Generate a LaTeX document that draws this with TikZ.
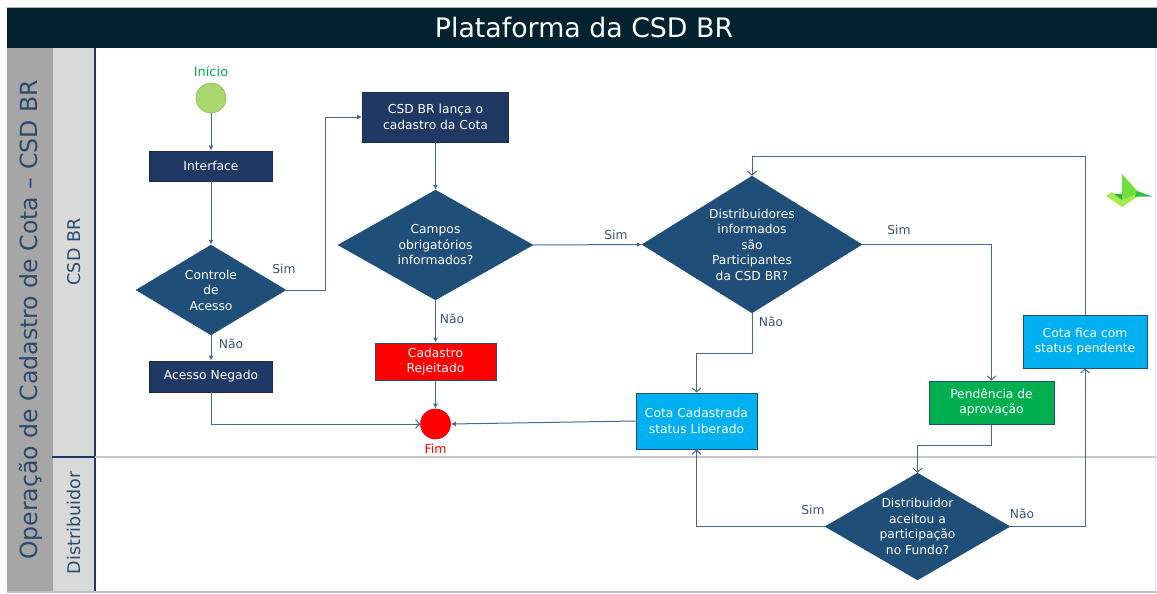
\documentclass[tikz,border=0pt]{standalone}
\usepackage{fontspec}
\setmainfont{DejaVu Sans}
\usetikzlibrary{shapes.geometric,arrows.meta}
\definecolor{hdr}{HTML}{03222F}
\definecolor{navy}{HTML}{203864}
\definecolor{dia}{HTML}{1F4E79}
\definecolor{ln}{HTML}{45698F}
\definecolor{lbl}{HTML}{3C5373}
\definecolor{lanetxt}{HTML}{2B4A6C}
\definecolor{ltblue}{HTML}{00B0F0}
\definecolor{grn}{HTML}{00B050}
\definecolor{startg}{HTML}{A9D86E}
\definecolor{gA}{HTML}{A6A6A6}
\definecolor{gB}{HTML}{D9D9D9}
\definecolor{logoA}{HTML}{A6EC4A}
\definecolor{logoB}{HTML}{6FDD3A}
\definecolor{logoC}{HTML}{2DBE3C}
\definecolor{logoD}{HTML}{27B04A}
\tikzset{
  txt/.style={font=\fontsize{12.3}{15.5}\selectfont, align=center},
  darkbox/.style={rectangle, draw=navy!80!black, line width=0.8pt, fill=navy, text=white, txt, inner sep=0pt},
  bluebox/.style={rectangle, draw=dia, line width=1pt, fill=ltblue, text=white, txt, inner sep=0pt},
  greenbox/.style={rectangle, draw=dia, line width=1pt, fill=grn, text=white, txt, inner sep=0pt},
  redbox/.style={rectangle, draw=dia, line width=1pt, fill=red, text=white, txt, inner sep=0pt},
  decision/.style={diamond, fill=dia, draw=dia, inner sep=0pt},
  dtext/.style={txt, text=white},
  flowfill/.style={draw=ln, line width=1pt, -{Latex[length=5pt,width=5pt]}},
  flowopen/.style={draw=ln, line width=1pt, -{Straight Barb[length=4pt,width=9pt]}},
  yesno/.style={font=\fontsize{12.3}{14}\selectfont, text=lbl},
}
\begin{document}
\begin{tikzpicture}[x=1pt,y=-1pt]
\useasboundingbox (0,0) rectangle (1157,594);
\fill[white] (0,0) rectangle (1157,594);
% header
\fill[hdr] (7,7) rectangle (1157,48);
\draw[gray!60, line width=0.6pt] (7,7) -- (1157,7);
\node[text=white, font=\fontsize{26.8}{30}\selectfont] (title) at (584,28) {Plataforma da CSD BR};
% lanes
\fill[gA] (7,48) rectangle (52,592);
\fill[gB] (52,48) rectangle (95,592);
\draw[gray!70, line width=0.6pt] (52,48) -- (52,592);
\draw[navy, line width=1.2pt] (95,48) -- (95,592);
\draw[navy, line width=1.2pt] (52,457) -- (95,457);
\draw[gray!45, line width=1.2pt] (95,457) -- (1157,457);
\draw[gray!50, line width=1.2pt] (7,592) -- (1157,592);
\draw[gray!25, line width=0.8pt] (1155,48) -- (1155,592);
\node[rotate=90, text=lanetxt, font=\fontsize{23.6}{26}\selectfont] (lane0) at (31,320) {Operação de Cadastro de Cota – CSD BR};
\node[rotate=90, text=lanetxt, font=\fontsize{17.5}{20}\selectfont] (lane1) at (74,252) {CSD BR};
\node[rotate=90, text=lanetxt, font=\fontsize{17.5}{20}\selectfont] (lane2) at (74,523) {Distribuidor};

% nodes
\node[circle, fill=startg, draw=startg!85!black, line width=0.6pt, minimum size=30pt, inner sep=0pt] (start) at (211,98) {};
\node[text=grn, font=\fontsize{13}{15}\selectfont] (startlbl) at (211,71) {Início};
\node[darkbox, minimum width=123pt, minimum height=30pt] (iface) at (211,166) {Interface};
\node[decision, minimum width=150pt, minimum height=90pt] (ctrl) at (211,290) {};
\node[dtext] (ctrlt) at (211,290) {Controle\\de\\Acesso};
\node[darkbox, minimum width=123pt, minimum height=31pt] (neg) at (211,376.5) {Acesso Negado};

\node[darkbox, minimum width=146pt, minimum height=50pt] (csd) at (435.5,117) {CSD BR lança o\\cadastro da Cota};
\node[decision, minimum width=195pt, minimum height=110pt] (campos) at (435.5,245) {};
\node[dtext] (campost) at (435.5,245) {Campos\\obrigatórios\\informados?};
\node[redbox, minimum width=121pt, minimum height=37pt] (rej) at (435.5,361.5) {Cadastro\\Rejeitado};
\node[circle, fill=red, draw=red!85!black, line width=0.6pt, minimum size=30pt, inner sep=0pt] (fim) at (435.5,424) {};
\node[text=red, font=\fontsize{12.5}{15}\selectfont] (fimlbl) at (435.5,449) {Fim};

\node[decision, minimum width=220pt, minimum height=137pt] (dist) at (752,244.5) {};
\node[dtext] (distt) at (752,244.5) {Distribuidores\\informados\\são\\Participantes\\da CSD BR?};
\node[bluebox, minimum width=121pt, minimum height=56pt] (cad) at (696.5,421) {Cota Cadastrada\\status Liberado};
\node[greenbox, minimum width=125pt, minimum height=43pt] (pend) at (991.5,402.5) {Pendência de\\aprovação};
\node[decision, minimum width=185pt, minimum height=107pt] (acc) at (917.5,526.5) {};
\node[dtext] (acct) at (917.5,526.5) {Distribuidor\\aceitou a\\participação\\no Fundo?};
\node[bluebox, minimum width=124pt, minimum height=53pt] (fica) at (1085,341.5) {Cota fica com\\status pendente};

% bend coordinates
\coordinate (b1) at (325,290);
\coordinate (b2) at (752,353);
\coordinate (b3) at (991.5,445);
\coordinate (b4) at (1085,156);

% connectors
\draw[flowfill] (start) -- (iface);
\draw[flowfill] (iface) -- (ctrl.north);
\draw[flowfill] (ctrl.east) -- (b1) |- (csd.west);
\draw[flowfill] (ctrl.south) -- (neg.north);
\draw[flowopen] (neg.south) |- (fim.west);
\draw[flowfill] (csd.south) -- (campos.north);
\draw[flowfill] (campos.south) -- (rej.north);
\draw[flowfill] (rej.south) -- (fim.north);
\draw[flowfill] (campos.east) -- (dist.west);
\draw[flowopen] (dist.east) -| (pend.north);
\draw[flowopen] (dist.south) -- (b2) -| (cad.north);
\draw[flowfill] (cad.west) -- (fim.east);
\draw[flowopen] (pend.south) -- (b3) -| (acc.north);
\draw[flowopen] (acc.west) -| (cad.south);
\draw[flowopen] (acc.east) -| (fica.south);
\draw[flowopen] (fica.north) -- (b4) -| (dist.north);

% yes/no labels
\node[yesno] (l1) at (284,269) {Sim};
\node[yesno] (l2) at (231,344) {Não};
\node[yesno] (l3) at (452,319) {Não};
\node[yesno] (l4) at (616,235) {Sim};
\node[yesno] (l5) at (899,230) {Sim};
\node[yesno] (l6) at (771,322) {Não};
\node[yesno] (l7) at (813,510) {Sim};
\node[yesno] (l8) at (1022,514) {Não};

% logo
\fill[logoA] (1106,196) -- (1112,192) -- (1122,200) -- (1136,192) -- (1140,195) -- (1122,207) -- cycle;
\fill[logoD] (1114,194) -- (1122,200) -- (1122,194) -- cycle;
\fill[logoB] (1122,174) -- (1139,193) -- (1122,200) -- cycle;
\fill[logoC] (1137,191) -- (1152,196.5) -- (1135,196.5) -- cycle;
\end{tikzpicture}
\end{document}
